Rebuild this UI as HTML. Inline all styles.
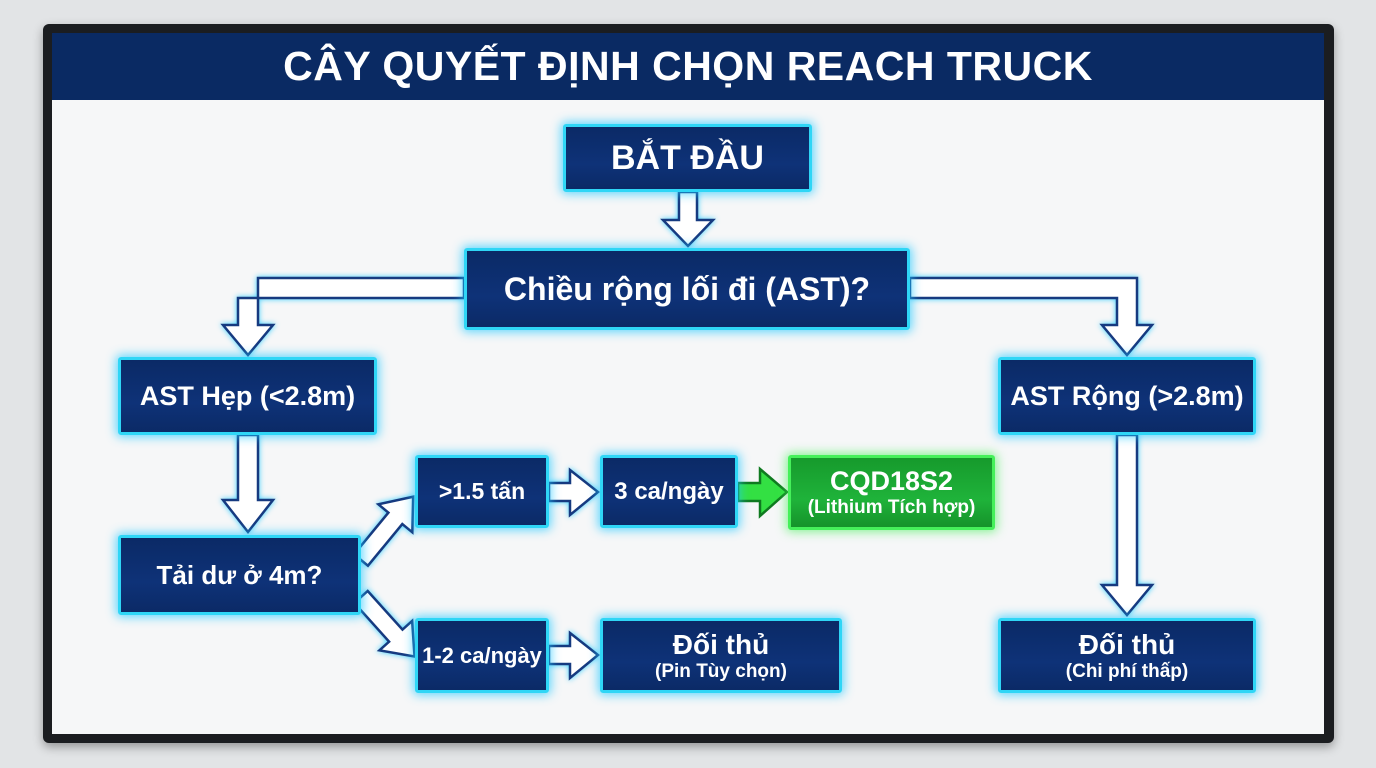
<!DOCTYPE html>
<html><head><meta charset="utf-8"><style>
*{margin:0;padding:0;box-sizing:border-box}
body{width:1376px;height:768px;background:#e2e4e6;position:relative;overflow:hidden;font-family:"Liberation Sans","DejaVu Sans",sans-serif}
.bezel{position:absolute;left:43px;top:24px;width:1291px;height:719px;background:#1b1d20;border-radius:6px;box-shadow:0 4px 10px rgba(0,0,0,.35)}
.screen{position:absolute;left:52px;top:33px;width:1272px;height:701px;background:#f6f7f8}
.head{position:absolute;left:52px;top:33px;width:1272px;height:67px;background:#0a2a63;color:#fff;font-weight:bold;font-size:41px;text-align:center;line-height:67px;letter-spacing:.5px}
.b{position:absolute;background:linear-gradient(#0b2a66,#0e3278 60%,#0b2a66);border:3px solid #2fd6f6;box-shadow:0 0 10px 2px rgba(30,200,255,.7);color:#fff;font-weight:bold;display:flex;flex-direction:column;align-items:center;justify-content:center;text-align:center;border-radius:3px;white-space:nowrap}
.g{background:linear-gradient(#169a2c,#1fb33a 60%,#15932a);border-color:#45f05a;box-shadow:0 0 10px 2px rgba(60,240,80,.6)}
.s{font-size:19px;font-weight:bold}
svg{position:absolute;left:0;top:0}
</style></head><body>
<div class="bezel"></div>
<div class="screen"></div>
<div class="head">CÂY QUYẾT ĐỊNH CHỌN REACH TRUCK</div>
<svg width="1376" height="768">
<g fill="#fff" stroke="#163a80" stroke-width="2.5" stroke-linejoin="miter" style="filter:drop-shadow(0 0 3px #3ad0ff)">
<polygon points="679,192 697,192 697,220 713,220 688,246 663,220 679,220"/>
<polygon points="464,278 258,278 258,325 273,325 248,355 223,325 238,325 238,298 464,298"/>
<polygon points="910,278 1137,278 1137,325 1152,325 1127,355 1102,325 1117,325 1117,298 910,298"/>
<polygon points="238,435 258,435 258,500 273,500 248,532 223,500 238,500"/>
<polygon points="1117,435 1137,435 1137,585 1152,585 1127,615 1102,585 1117,585"/>
<polygon points="549,483 570,483 570,470 598,492 570,515 570,501 549,501"/>
<polygon points="549,646 570,646 570,633 598,655 570,678 570,664 549,664"/>
<g transform="translate(361,560) rotate(-50.5)"><polygon points="0,-9 54,-9 54,-22 82,0 54,22 54,9 0,9"/></g>
<g transform="translate(361,597) rotate(48)"><polygon points="0,-9 52,-9 52,-22 80,0 52,22 52,9 0,9"/></g>
</g>
<polygon points="738,483 760,483 760,469 787,492 760,516 760,501 738,501" fill="#33e043" stroke="#0f7a20" stroke-width="2.5"/>
</svg>
<div class="b" style="left:563px;top:124px;width:249px;height:68px;font-size:34px">BẮT ĐẦU</div>
<div class="b" style="left:464px;top:248px;width:446px;height:82px;font-size:32px">Chiều rộng lối đi (AST)?</div>
<div class="b" style="left:118px;top:357px;width:259px;height:78px;font-size:27px">AST Hẹp (&lt;2.8m)</div>
<div class="b" style="left:998px;top:357px;width:258px;height:78px;font-size:27px">AST Rộng (&gt;2.8m)</div>
<div class="b" style="left:118px;top:535px;width:243px;height:80px;font-size:26px">Tải dư ở 4m?</div>
<div class="b" style="left:415px;top:455px;width:134px;height:73px;font-size:23px">&gt;1.5 tấn</div>
<div class="b" style="left:600px;top:455px;width:138px;height:73px;font-size:24px">3 ca/ngày</div>
<div class="b g" style="left:788px;top:455px;width:207px;height:75px;font-size:27px">CQD18S2<span class="s">(Lithium Tích hợp)</span></div>
<div class="b" style="left:415px;top:618px;width:134px;height:75px;font-size:22px">1-2 ca/ngày</div>
<div class="b" style="left:600px;top:618px;width:242px;height:75px;font-size:28px">Đối thủ<span class="s">(Pin Tùy chọn)</span></div>
<div class="b" style="left:998px;top:618px;width:258px;height:75px;font-size:28px">Đối thủ<span class="s">(Chi phí thấp)</span></div>
</body></html>
